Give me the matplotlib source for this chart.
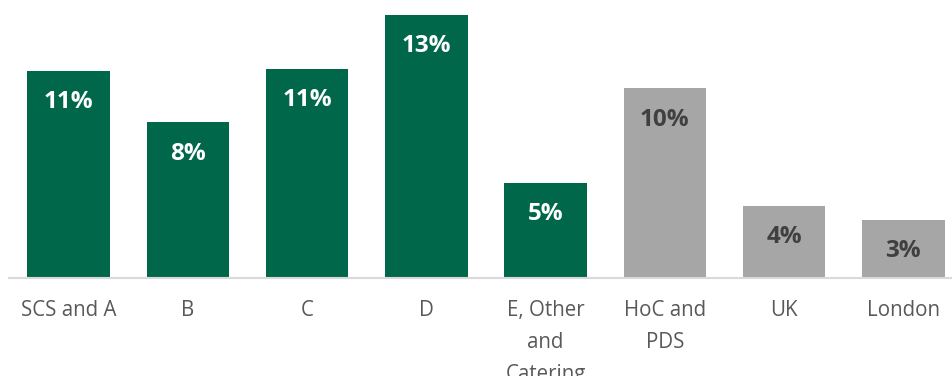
# Balkendiagramm: Anteile je Gruppe (grün) im Vergleich zu Referenzwerten (grau)
import matplotlib.pyplot as plt

# Daten
kategorien = ["SCS and A", "B", "C", "D", "E, Other\nand\nCatering",
              "HoC and\nPDS", "UK", "London"]
werte = [10.6, 7.95, 10.7, 13.45, 4.87, 9.7, 3.66, 2.96]
gruppe = ["team", "team", "team", "team", "team", "ref", "ref", "ref"]

gruen = "#00674A"
grau = "#A6A6A6"

plt.rcParams["font.family"] = ["Open Sans", "DejaVu Sans"]

fig = plt.figure(figsize=(9.52, 3.76), dpi=100)
# Achse in Pixeln platziert: Basislinie bei y=277.5, rechts über den Rand hinaus
ax = fig.add_axes([9 / 952, 98.5 / 376, 954 / 952, 277 / 376])

farben = [gruen if g == "team" else grau for g in gruppe]
x = range(len(kategorien))
balken = ax.bar(x, werte, width=0.69, color=farben)

# Werte-Beschriftung in den Balken
for b, w, g in zip(balken, werte, gruppe):
    ax.annotate(f"{w:.0f}%",
                xy=(b.get_x() + b.get_width() / 2, b.get_height()),
                xytext=(0, -22.5), textcoords="offset points",
                ha="center", va="center", fontsize=17.5, fontweight="bold",
                color="white" if g == "team" else "#404040")

ax.set_xlim(-0.5, len(kategorien) - 0.5)
ax.set_ylim(0, 277 / 19.5)

ax.set_xticks(list(x))
ax.set_xticklabels(kategorien, fontsize=14.8, color="#595959", linespacing=1.7)
ax.tick_params(axis="x", length=0, pad=16)
ax.set_yticks([])

for s in ["top", "right", "left"]:
    ax.spines[s].set_visible(False)
ax.spines["bottom"].set_color("#D9D9D9")
ax.spines["bottom"].set_linewidth(1.5)

fig.savefig("out.png", dpi=100)
